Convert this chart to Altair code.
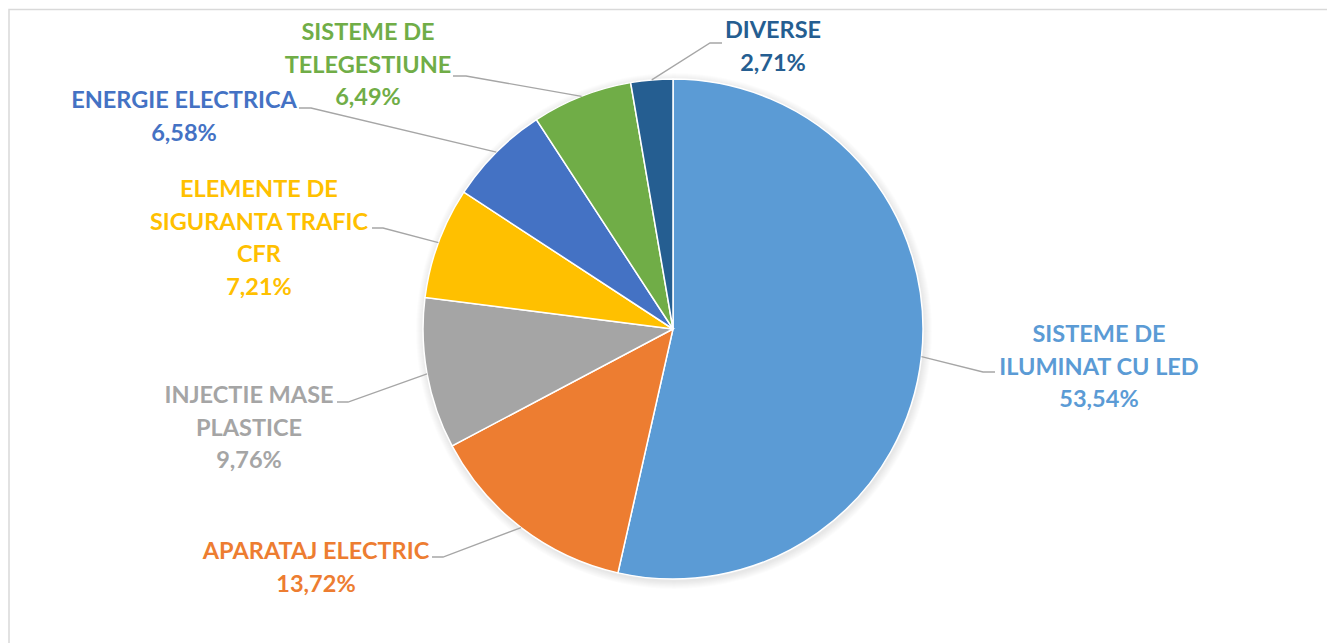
import altair as alt
import pandas as pd
import numpy as np

# ---- data ----
labels = [
    ["SISTEME DE", "ILUMINAT CU LED"],
    ["APARATAJ ELECTRIC"],
    ["INJECTIE MASE", "PLASTICE"],
    ["ELEMENTE DE", "SIGURANTA TRAFIC", "CFR"],
    ["ENERGIE ELECTRICA"],
    ["SISTEME DE", "TELEGESTIUNE"],
    ["DIVERSE"],
]
values = [53.54, 13.72, 9.76, 7.21, 6.58, 6.49, 2.71]
colors = ["#5B9BD5", "#ED7D31", "#A5A5A5", "#FFC000", "#4472C4", "#70AD47", "#255E91"]

# ---- layout (pixels) ----
W, H = 1327, 643
CX, CY, R = 673, 329, 250
LINE_H = 32.5
label_cx = [1099, 316, 249, 259, 184, 368, 773]
label_base = [342, 559, 403, 197, 108, 40, 38]
elbow = [(983, 372), (443, 557), (348, 402), (383, 228), (311, 108), (466, 76), (710, 43)]
endpt = [(995, 372), (432, 557), (337, 402), (372, 228), (299, 108), (453, 76), (722, 43)]
FONT = "Lato"
FSIZE = 23.5

def pct(v):
    return f"{v:.2f}".replace(".", ",") + "%"

slices = pd.DataFrame({"idx": range(len(values)), "value": values, "color": colors})

# leader lines
tot = sum(values)
cum = np.cumsum([0] + values)
rows = []
for i, v in enumerate(values):
    mid = (cum[i] + v / 2) / tot * 2 * np.pi
    ex, ey = CX + R * np.sin(mid), CY - R * np.cos(mid)
    pts = [(ex, ey), elbow[i], endpt[i]]
    for k, (px, py) in enumerate(pts):
        rows.append({"sid": i, "k": k, "x": px, "y": py})
lines = pd.DataFrame(rows)

# text lines
trows = []
for i, v in enumerate(values):
    tl = labels[i] + [pct(v)]
    for j, t in enumerate(tl):
        trows.append({"t": t, "x": label_cx[i], "y": label_base[i] + j * LINE_H, "color": colors[i]})
texts = pd.DataFrame(trows)

xs = alt.Scale(domain=[0, W], range=[0, W], zero=False, nice=False)
ys = alt.Scale(domain=[0, H], range=[0, H], zero=False, nice=False)

frame = alt.Chart(pd.DataFrame({"a": [0]})).mark_rect(
    fill=None, stroke="#D9D9D9", strokeWidth=1.5
).encode(x=alt.value(9), y=alt.value(9.5), x2=alt.value(W + 20), y2=alt.value(H + 20))

shadow_layers = []
for k in range(1, 9):
    shadow_layers.append(
        alt.Chart(pd.DataFrame({"a": [0]})).mark_arc(
            outerRadius=R + k, theta=0, theta2=2 * np.pi, fill="#000000", fillOpacity=0.012
        ).encode(x=alt.value(CX + 1), y=alt.value(CY + 2))
    )

pie = alt.Chart(slices).mark_arc(outerRadius=R, stroke="white", strokeWidth=1.5).encode(
    theta=alt.Theta("value:Q", stack=True),
    order=alt.Order("idx:Q"),
    color=alt.Color("color:N", scale=None),
    x=alt.value(CX),
    y=alt.value(CY),
)

leaders = alt.Chart(lines).mark_line(color="#A6A6A6", strokeWidth=1.3).encode(
    x=alt.X("x:Q", scale=xs, axis=None),
    y=alt.Y("y:Q", scale=ys, axis=None),
    detail="sid:N",
    order="k:Q",
)

text = alt.Chart(texts).mark_text(
    align="center", baseline="alphabetic", font=FONT, fontWeight="bold", fontSize=FSIZE
).encode(
    x=alt.X("x:Q", scale=xs, axis=None),
    y=alt.Y("y:Q", scale=ys, axis=None),
    text="t:N",
    color=alt.Color("color:N", scale=None),
)

chart = alt.layer(frame, *shadow_layers, pie, leaders, text).properties(
    width=W, height=H, padding=0, autosize=alt.AutoSizeParams(type="none"), background="white"
).configure_view(stroke=None)

chart.save("out.html", embed_options={"renderer": "svg", "actions": False})
